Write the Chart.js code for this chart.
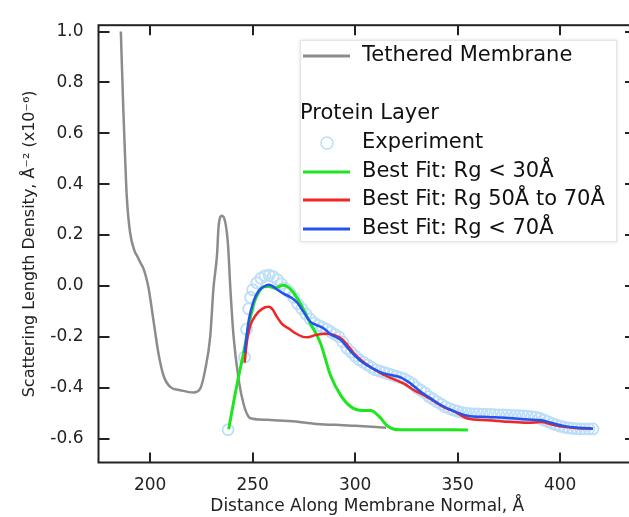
<!DOCTYPE html>
<html>
<head>
<meta charset="utf-8">
<script src="https://cdn.jsdelivr.net/npm/chart.js@4.4.1/dist/chart.umd.min.js"></script>
<style>
  html, body { margin: 0; padding: 0; overflow: hidden; background: #fff; }
  #wrap { width: 629px; height: 517px; overflow: hidden; }
</style>
</head>
<body>
<div id="wrap"><canvas id="sld-graph" width="650" height="517"></canvas></div>
<script>
const xTicks = [200, 250, 300, 350, 400];
const yTicks = [-0.6, -0.4, -0.2, 0.0, 0.2, 0.4, 0.6, 0.8, 1.0];

// tethered membrane (grey)
const membraneX = [185.7, 186.9, 187.8, 188.6, 190.2, 192.6, 193.5, 195, 196.7, 198, 199.2, 201.6, 204, 206.5, 209.8, 214.7, 221.2, 224.4, 226.9, 229.3, 230.9, 232.6, 233.4, 235, 236.7, 238, 239.1, 240.7, 243.2, 245.6, 248.1, 250, 253, 257, 263, 269.3, 276, 283, 290.4, 300, 315.1];
const membraneY = [1.0, 0.695, 0.50, 0.35, 0.21, 0.133, 0.12, 0.095, 0.069, 0.035, -0.007, -0.135, -0.263, -0.352, -0.397, -0.41, -0.419, -0.404, -0.327, -0.199, -0.007, 0.12, 0.235, 0.276, 0.248, 0.159, -0.007, -0.199, -0.37, -0.465, -0.515, -0.522, -0.525, -0.526, -0.529, -0.532, -0.538, -0.544, -0.546, -0.55, -0.557];

// protein layer, experiment
const expX = [238, 246, 247, 248, 249, 250, 252, 254, 256, 258, 260, 262, 264, 266, 268, 270, 272, 274, 276, 278, 280, 282, 284, 286, 288, 290, 292, 294, 296, 298, 300, 302, 304, 306, 308, 310, 312, 314, 316, 318, 320, 322, 324, 326, 328, 330, 332, 334, 336, 338, 340, 342, 344, 346, 348, 350, 352, 354, 356, 358, 360, 362, 364, 366, 368, 370, 372, 374, 376, 378, 380, 382, 384, 386, 388, 390, 392, 394, 396, 398, 400, 402, 404, 406, 408, 410, 412, 414, 416];
const expY = [-0.565, -0.28, -0.17, -0.09, -0.045, -0.015, 0.012, 0.03, 0.04, 0.042, 0.037, 0.025, 0.008, -0.01, -0.025, -0.045, -0.07, -0.09, -0.11, -0.13, -0.145, -0.155, -0.162, -0.17, -0.18, -0.19, -0.20, -0.22, -0.245, -0.26, -0.275, -0.29, -0.30, -0.31, -0.32, -0.33, -0.335, -0.34, -0.345, -0.35, -0.355, -0.36, -0.365, -0.375, -0.385, -0.40, -0.41, -0.42, -0.435, -0.445, -0.455, -0.465, -0.475, -0.482, -0.488, -0.493, -0.497, -0.50, -0.502, -0.503, -0.503, -0.504, -0.505, -0.505, -0.506, -0.507, -0.507, -0.508, -0.509, -0.51, -0.51, -0.511, -0.512, -0.514, -0.516, -0.52, -0.527, -0.533, -0.54, -0.546, -0.551, -0.555, -0.558, -0.56, -0.561, -0.562, -0.562, -0.562, -0.562];

// best fit Rg < 30
const fit30X = [238.3, 240.7, 243.2, 245.6, 248.1, 250.5, 252.9, 255.4, 258.0, 260.5, 263.0, 264.8, 266.8, 269.3, 273.4, 278.2, 283.1, 288.0, 292.9, 297.8, 303.5, 307.6, 311.6, 315.7, 319.0, 322.2, 330, 355];
const fit30Y = [-0.563, -0.457, -0.353, -0.263, -0.154, -0.071, -0.026, -0.003, -0.002, -0.008, -0.002, 0.003, -0.002, -0.02, -0.071, -0.148, -0.225, -0.352, -0.429, -0.474, -0.49, -0.49, -0.512, -0.55, -0.563, -0.565, -0.565, -0.566];

// best fit Rg 50 to 70
const fit5070X = [246.1, 247.3, 248.9, 251.3, 254.6, 257.8, 259.5, 261.9, 264.4, 267.6, 270.9, 274.2, 276.6, 280.7, 285.6, 289.6, 293.7, 296.2, 299.4, 304.3, 309.2, 314.1, 319.0, 323.8, 328.7, 333.6, 338.5, 343.4, 348.3, 354.8, 364.6, 374.4, 384.2, 390.7, 395.6, 402.1, 408.6, 416.0];
const fit5070Y = [-0.301, -0.213, -0.155, -0.117, -0.09, -0.082, -0.09, -0.122, -0.15, -0.167, -0.186, -0.199, -0.202, -0.193, -0.188, -0.193, -0.21, -0.232, -0.265, -0.301, -0.327, -0.35, -0.367, -0.384, -0.41, -0.429, -0.454, -0.477, -0.493, -0.521, -0.528, -0.534, -0.538, -0.535, -0.544, -0.554, -0.559, -0.561];

// best fit Rg < 70
const fit70X = [246.1, 248.1, 250.5, 252.9, 255.4, 257.8, 259.5, 261.9, 265.2, 268.4, 271.7, 274.9, 278.2, 281.5, 284.7, 288.0, 292.9, 297.8, 302.7, 307.6, 312.5, 317.3, 322.2, 327.1, 332.0, 336.9, 341.8, 348.3, 354.8, 364.6, 374.4, 384.2, 390.7, 395.6, 402.1, 408.6, 416.0];
const fit70Y = [-0.263, -0.135, -0.059, -0.02, -0.003, 0.005, 0.0, -0.014, -0.031, -0.044, -0.065, -0.103, -0.141, -0.155, -0.167, -0.19, -0.212, -0.257, -0.295, -0.32, -0.34, -0.35, -0.359, -0.384, -0.416, -0.442, -0.468, -0.493, -0.51, -0.515, -0.519, -0.525, -0.528, -0.538, -0.551, -0.557, -0.561];

const pts = (xs, ys) => xs.map((x, i) => ({ x: x, y: ys[i] }));
const FONT = 'DejaVu Sans';

// box frame with inward ticks on all 4 sides
const frameTicks = {
  id: 'frameTicks',
  afterDatasetsDraw(chart) {
    const { ctx, chartArea: a, scales } = chart;
    ctx.save();
    ctx.strokeStyle = '#222';
    ctx.lineWidth = 2;
    ctx.strokeRect(a.left, a.top, a.right - a.left, a.bottom - a.top);
    ctx.beginPath();
    xTicks.forEach(v => {
      const px = Math.round(scales.x.getPixelForValue(v));
      ctx.moveTo(px, a.bottom); ctx.lineTo(px, a.bottom - 10);
      ctx.moveTo(px, a.top); ctx.lineTo(px, a.top + 10);
    });
    yTicks.forEach(v => {
      const py = Math.round(scales.y.getPixelForValue(v));
      ctx.moveTo(a.left, py); ctx.lineTo(a.left + 11, py);
      ctx.moveTo(a.right, py); ctx.lineTo(a.right - 11, py);
    });
    ctx.stroke();
    ctx.restore();
  }
};

// legend drawn by hand (has a sub heading)
const boxLegend = {
  id: 'boxLegend',
  afterDraw(chart) {
    const ctx = chart.ctx;
    const ds = chart.data.datasets;
    ctx.save();
    ctx.shadowColor = 'rgba(0,0,0,0.15)';
    ctx.shadowBlur = 3;
    ctx.fillStyle = '#fff';
    ctx.fillRect(300, 40, 317, 202);
    ctx.shadowColor = 'transparent';
    ctx.strokeStyle = '#e6e6e6';
    ctx.lineWidth = 1;
    ctx.strokeRect(300.5, 40.5, 316, 201);
    ctx.font = '21px "' + FONT + '"';
    ctx.fillStyle = '#111';
    ctx.textBaseline = 'middle';
    const rows = [
      { ds: ds[0], y: 56 },
      { head: 'Protein Layer', y: 114 },
      { ds: ds[1], y: 143, marker: true },
      { ds: ds[2], y: 172 },
      { ds: ds[3], y: 200 },
      { ds: ds[4], y: 229 }
    ];
    rows.forEach(r => {
      if (r.head) { ctx.fillText(r.head, 300, r.y); return; }
      if (r.marker) {
        ctx.strokeStyle = r.ds.borderColor;
        ctx.lineWidth = 1.5;
        ctx.beginPath(); ctx.arc(327, r.y, 6, 0, Math.PI * 2); ctx.stroke();
      } else {
        ctx.strokeStyle = r.ds.borderColor;
        ctx.lineWidth = 3;
        ctx.beginPath(); ctx.moveTo(303, r.y); ctx.lineTo(350, r.y); ctx.stroke();
      }
      ctx.fillStyle = '#111';
      ctx.fillText(r.ds.label, 362, r.y);
    });
    ctx.restore();
  }
};

const lineSet = (label, xs, ys, color, width, order) => ({
  label: label,
  data: pts(xs, ys),
  showLine: true,
  borderColor: color,
  borderWidth: width,
  pointRadius: 0,
  cubicInterpolationMode: 'monotone',
  order: order
});

new Chart(document.getElementById('sld-graph'), {
  type: 'scatter',
  data: {
    datasets: [
      lineSet('Tethered Membrane', membraneX, membraneY, '#8c8c8c', 2.5, 4),
      {
        label: 'Experiment',
        data: pts(expX, expY),
        showLine: false,
        pointStyle: 'circle',
        pointRadius: 5.5,
        borderColor: '#bcdef6',
        backgroundColor: 'rgba(255,255,255,0)',
        pointBorderWidth: 1.8,
        order: 5
      },
      lineSet('Best Fit: Rg < 30Å', fit30X, fit30Y, '#1ee61e', 3, 3),
      lineSet('Best Fit: Rg 50Å to 70Å', fit5070X, fit5070Y, '#f02525', 2.5, 2),
      lineSet('Best Fit: Rg < 70Å', fit70X, fit70Y, '#2452ee', 2.5, 1)
    ]
  },
  options: {
    responsive: false,
    animation: false,
    layout: { padding: { top: 14, right: 14, left: 0, bottom: 0 } },
    plugins: { legend: { display: false }, tooltip: { enabled: false } },
    scales: {
      x: {
        type: 'linear',
        min: 174.8,
        max: 437,
        afterBuildTicks: s => { s.ticks = xTicks.map(v => ({ value: v })); },
        afterFit: s => { s.height = 54.5; },
        grid: { display: false, drawTicks: false },
        border: { display: false },
        ticks: { padding: 13, color: '#222', font: { family: FONT, size: 17 }, callback: v => String(v) },
        title: { display: true, text: 'Distance Along Membrane Normal, Å', color: '#222', padding: { top: 0, bottom: 0 }, font: { family: FONT, size: 17 } }
      },
      y: {
        type: 'linear',
        min: -0.694,
        max: 1.025,
        afterBuildTicks: s => { s.ticks = yTicks.map(v => ({ value: v })); },
        afterFit: s => { s.width = 98.5; },
        grid: { display: false, drawTicks: false },
        border: { display: false },
        ticks: { padding: 15, color: '#222', font: { family: FONT, size: 17 }, callback: v => (Math.abs(v) < 1e-9 ? 0 : v).toFixed(1) },
        title: { display: true, text: 'Scattering Length Density, Å⁻² (x10⁻⁶)', color: '#222', padding: { top: 20, bottom: 0 }, font: { family: FONT, size: 16 } }
      }
    }
  },
  plugins: [frameTicks, boxLegend]
});
</script>
</body>
</html>
